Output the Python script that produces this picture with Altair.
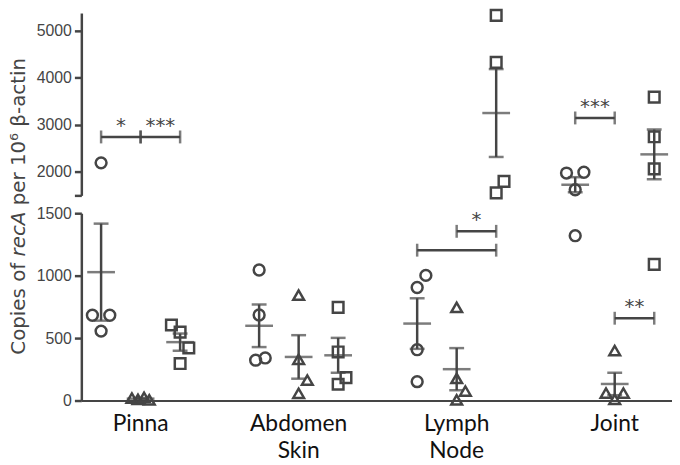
import altair as alt
import pandas as pd

# ---------------- data ----------------
groups = ["Pinna", "Abdomen Skin", "Lymph Node", "Joint"]
group_labels = ["Pinna", "Abdomen\nSkin", "Lymph\nNode", "Joint"]
series = ["circle", "triangle", "square"]

# values per group: [circles, triangles, squares]
pinna = [[2190, 683, 683, 556], [20, 10, 25, 5], [605, 548, 421, 296]]
abdomen_skin = [[1045, 685, 323, 341], [844, 330, 164, 58], [746, 389, 183, 130]]
lymph_node = [[1002, 905, 407, 151], [746, 177, 76, 5], [5320, 4322, 1796, 1552]]
joint = [[1973, 1990, 1620, 1320], [400, 60, 60, 10], [3585, 2743, 2063, 1090]]

# horizontal scatter of overlapping points (in marker widths)
pinna_spread = [[0, -1, 1, 0], [-1, -0.3, 0.4, 1], [-1, 0, 1, 0]]
abdomen_spread = [[0, 0, -0.4, 0.7], [0, 0, 1, 0], [0, 0, 0.9, 0]]
lymph_spread = [[1, 0, 0, 0], [0, 0, 1, 0], [0, 0, 0.9, 0]]
joint_spread = [[-1, 1, 0, 0], [0, -1, 1, 0], [0, 0, 0, 0]]

# significance brackets
bracket_group = [0, 0, 2, 2, 3, 3]
bracket_from = [0, 1, 1, 0, 0, 1]
bracket_to = [1, 2, 2, 2, 1, 2]
bracket_level = [2740, 2740, 1355, 1204, 3143, 659]
bracket_stars = ["*", "***", "*", "", "***", "**"]

BREAK = 1500
upper_ticks = [1500, 2000, 3000, 4000, 5000]
lower_ticks = [0, 500, 1000, 1500]

# ---------------- tables ----------------
all_vals = [pinna, abdomen_skin, lymph_node, joint]
all_spread = [pinna_spread, abdomen_spread, lymph_spread, joint_spread]
rows = []
for g, (gv, gs) in enumerate(zip(all_vals, all_spread)):
    for s, (vals, spr) in enumerate(zip(gv, gs)):
        for v, j in zip(vals, spr):
            rows.append({"group": groups[g], "series": series[s], "value": v,
                         "pos": 4 * g + s, "xj": 4 * g + s + 0.22 * j})
pts = pd.DataFrame(rows)

brk = pd.DataFrame({
    "x1": [4 * g + a for g, a in zip(bracket_group, bracket_from)],
    "x2": [4 * g + b for g, b in zip(bracket_group, bracket_to)],
    "level": bracket_level,
    "stars": bracket_stars,
})
brk["xm"] = (brk["x1"] + brk["x2"]) / 2
ends = pd.concat([brk[["x1", "level"]].rename(columns={"x1": "x"}),
                  brk[["x2", "level"]].rename(columns={"x2": "x"})])

labs = pd.DataFrame({"pos": [4 * g + 1 for g in range(4)], "label": group_labels})

INK = "#454545"
W = 596
H_UP = 184
H_LO = 189
TFONT = "DejaVu Sans"
TSIZE = 20

xscale = alt.Scale(domain=[-0.5, 14.45], nice=False, zero=False)


def panel(upper):
    if upper:
        yscale = alt.Scale(domain=[BREAK, 5370], nice=False, zero=False)
        yaxis = alt.Axis(values=upper_ticks, format="d", title=None,
                         labelExpr="datum.value == 1500 ? '' : datum.label")
        xaxis = None
        cond = "datum.value >= 1500"
        cond_m = "datum.m >= 1500"
        cond_l = "datum.level >= 1500"
        h = H_UP
    else:
        yscale = alt.Scale(domain=[0, BREAK], nice=False)
        yaxis = alt.Axis(values=lower_ticks, format="d", title=None)
        xaxis = alt.Axis(ticks=False, labels=False, title=None, domain=True, domainWidth=2)
        cond = "datum.value < 1500"
        cond_m = "datum.m < 1500"
        cond_l = "datum.level < 1500"
        h = H_LO

    X = lambda f: alt.X(f, scale=xscale, axis=xaxis)
    Y = lambda f: alt.Y(f, scale=yscale, axis=yaxis)

    points = alt.Chart(pts).transform_filter(cond).mark_point(
        filled=False, strokeWidth=2.5, opacity=1
    ).encode(
        x=X("xj:Q"), y=Y("value:Q"),
        shape=alt.Shape("series:N", scale=alt.Scale(domain=series, range=["circle", "triangle-up", "square"]), legend=None),
        size=alt.Size("series:N", scale=alt.Scale(domain=series, range=[120, 115, 112]), legend=None),
        color=alt.value(INK),
    )

    stats = alt.Chart(pts).transform_aggregate(
        m="mean(value)", se="stderr(value)", groupby=["pos"]
    ).transform_calculate(lo="datum.m - datum.se", hi="datum.m + datum.se").transform_filter(cond_m)

    err = stats.mark_rule(strokeWidth=2.5, color=INK).encode(x=X("pos:Q"), y=Y("lo:Q"), y2="hi:Q")
    caps = stats.transform_fold(["lo", "hi"], as_=["k", "v"]).mark_tick(
        orient="horizontal", size=15, thickness=2.5, color=INK).encode(x=X("pos:Q"), y=Y("v:Q"))
    means = stats.mark_tick(orient="horizontal", size=28, thickness=2.5, color=INK).encode(
        x=X("pos:Q"), y=Y("m:Q"))

    rules = alt.Chart(brk).transform_filter(cond_l).mark_rule(strokeWidth=2.5, color=INK).encode(
        x=X("x1:Q"), x2="x2:Q", y=Y("level:Q"))
    endt = alt.Chart(ends).transform_filter(cond_l).mark_tick(
        orient="vertical", size=13, thickness=2.5, color=INK).encode(x=X("x:Q"), y=Y("level:Q"))
    stars = alt.Chart(brk).transform_filter(cond_l).mark_text(
        font="DejaVu Sans", fontSize=20, dy=-5, baseline="alphabetic", color=INK
    ).encode(x=X("xm:Q"), y=Y("level:Q"), text="stars:N")

    layers = [points, err, caps, means, rules, endt, stars]

    if not upper:
        labels = alt.Chart(labs).mark_text(
            font="Lato", fontSize=23, lineBreak="\n", baseline="alphabetic", lineHeight=27, color="#111111"
        ).encode(x=X("pos:Q"), y=alt.value(H_LO + 31), text="label:N")
        layers.append(labels)

        # y-axis title: plain / italic gene name / plain, laid out around "recA"
        base_x = -57
        mid_y = 21                          # centre of "recA" in panel pixels
        half = 2.26 * TSIZE / 2 + 0.318 * TSIZE
        segs = [("Copies of", "normal", "right", mid_y + half),
                ("recA", "italic", "center", mid_y),
                ("per 10\u2076 \u03b2-actin", "normal", "left", mid_y - half)]
        for t, st, al, yy in segs:
            layers.append(
                alt.Chart(pd.DataFrame({"t": [t]})).mark_text(
                    angle=270, align=al, baseline="alphabetic", font=TFONT,
                    fontSize=TSIZE, fontStyle=st, color=INK
                ).encode(x=alt.value(base_x), y=alt.value(yy), text="t:N")
            )

    return alt.layer(*layers).properties(width=W, height=h)


chart = alt.vconcat(panel(True), panel(False), spacing=18, bounds="flush").properties(
    padding={"top": -5, "bottom": 0, "left": 0, "right": 0}
).configure_view(stroke=None).configure_axis(
    domainColor=INK, domainWidth=2.5, tickColor=INK, tickWidth=2.5, tickSize=7,
    labelColor=INK, labelFont="Liberation Sans", labelFontSize=16, labelPadding=3, grid=False
)

chart.save("out.html", embed_options={"renderer": "svg", "actions": False})
